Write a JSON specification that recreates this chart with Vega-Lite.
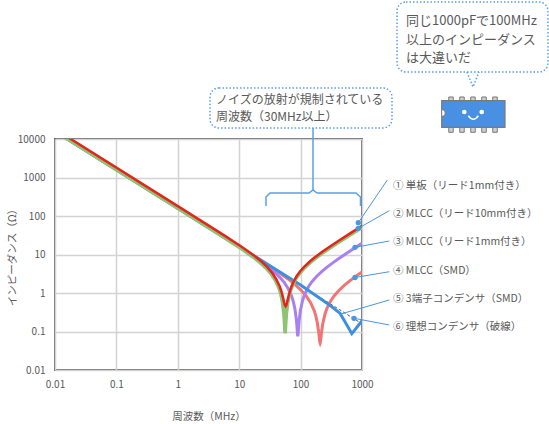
{
  "$schema": "https://vega.github.io/schema/vega-lite/v6.json",
  "autosize": {"type": "none"},
  "padding": {"left": 55, "top": 139, "right": 187, "bottom": 54},
  "width": 307,
  "height": 231,
  "background": "white",
  "datasets": {
    "curves": [
      {"s": "6", "f": 0.01, "z": 15915}, {"s": "6", "f": 1, "z": 159.15}, {"s": "6", "f": 1000, "z": 0.15915},

      {"s": "1", "f": 0.01, "z": 18085}, {"s": "1", "f": 1, "z": 180.8}, {"s": "1", "f": 5.7, "z": 31.41},
      {"s": "1", "f": 11.4, "z": 15.23}, {"s": "1", "f": 17.1, "z": 9.624}, {"s": "1", "f": 22.8, "z": 6.663},
      {"s": "1", "f": 28.5, "z": 4.76}, {"s": "1", "f": 34.2, "z": 3.385}, {"s": "1", "f": 39.9, "z": 2.312},
      {"s": "1", "f": 45.6, "z": 1.497}, {"s": "1", "f": 48.45, "z": 1.129}, {"s": "1", "f": 51.3, "z": 0.807},
      {"s": "1", "f": 54.15, "z": 0.555}, {"s": "1", "f": 55.29, "z": 0.49}, {"s": "1", "f": 57, "z": 0.45},
      {"s": "1", "f": 58.71, "z": 0.4876}, {"s": "1", "f": 59.85, "z": 0.546}, {"s": "1", "f": 62.7, "z": 0.7546},
      {"s": "1", "f": 68.4, "z": 1.247}, {"s": "1", "f": 74.1, "z": 1.743}, {"s": "1", "f": 85.5, "z": 2.682},
      {"s": "1", "f": 96.9, "z": 3.556}, {"s": "1", "f": 114, "z": 4.781}, {"s": "1", "f": 142.5, "z": 6.663},
      {"s": "1", "f": 171, "z": 8.461}, {"s": "1", "f": 228, "z": 11.9}, {"s": "1", "f": 285, "z": 15.23},
      {"s": "1", "f": 399, "z": 21.76}, {"s": "1", "f": 570, "z": 31.41}, {"s": "1", "f": 1000, "z": 55.49},

      {"s": "2", "f": 0.01, "z": 15915}, {"s": "2", "f": 1, "z": 159.1}, {"s": "2", "f": 5.6, "z": 28.14},
      {"s": "2", "f": 11.2, "z": 13.64}, {"s": "2", "f": 16.8, "z": 8.62}, {"s": "2", "f": 22.4, "z": 5.968},
      {"s": "2", "f": 28, "z": 4.263}, {"s": "2", "f": 33.6, "z": 3.032}, {"s": "2", "f": 39.2, "z": 2.071},
      {"s": "2", "f": 44.8, "z": 1.282}, {"s": "2", "f": 47.6, "z": 0.932}, {"s": "2", "f": 50.4, "z": 0.607},
      {"s": "2", "f": 53.2, "z": 0.305}, {"s": "2", "f": 54.32, "z": 0.195}, {"s": "2", "f": 55.44, "z": 0.1066},
      {"s": "2", "f": 56, "z": 0.09}, {"s": "2", "f": 56.56, "z": 0.1063}, {"s": "2", "f": 57.68, "z": 0.1906},
      {"s": "2", "f": 58.8, "z": 0.2917}, {"s": "2", "f": 61.6, "z": 0.55}, {"s": "2", "f": 67.2, "z": 1.046},
      {"s": "2", "f": 72.8, "z": 1.511}, {"s": "2", "f": 84, "z": 2.37}, {"s": "2", "f": 95.2, "z": 3.161},
      {"s": "2", "f": 112, "z": 4.264}, {"s": "2", "f": 140, "z": 5.969}, {"s": "2", "f": 168, "z": 7.58},
      {"s": "2", "f": 224, "z": 10.66}, {"s": "2", "f": 280, "z": 13.64}, {"s": "2", "f": 392, "z": 19.49},
      {"s": "2", "f": 560, "z": 28.14}, {"s": "2", "f": 1000, "z": 50.59},

      {"s": "3", "f": 0.01, "z": 15915}, {"s": "3", "f": 1, "z": 159.1}, {"s": "3", "f": 9, "z": 17.51},
      {"s": "3", "f": 18, "z": 8.488}, {"s": "3", "f": 27, "z": 5.364}, {"s": "3", "f": 36, "z": 3.713},
      {"s": "3", "f": 45, "z": 2.652}, {"s": "3", "f": 54, "z": 1.886}, {"s": "3", "f": 63, "z": 1.288},
      {"s": "3", "f": 72, "z": 0.799}, {"s": "3", "f": 76.5, "z": 0.582}, {"s": "3", "f": 81, "z": 0.381},
      {"s": "3", "f": 85.5, "z": 0.1964}, {"s": "3", "f": 87.3, "z": 0.1313}, {"s": "3", "f": 89.1, "z": 0.083},
      {"s": "3", "f": 90, "z": 0.075}, {"s": "3", "f": 90.9, "z": 0.0828}, {"s": "3", "f": 92.7, "z": 0.1287},
      {"s": "3", "f": 94.5, "z": 0.1882}, {"s": "3", "f": 99, "z": 0.3458}, {"s": "3", "f": 108, "z": 0.6527},
      {"s": "3", "f": 117, "z": 0.9416}, {"s": "3", "f": 135, "z": 1.476}, {"s": "3", "f": 153, "z": 1.967},
      {"s": "3", "f": 180, "z": 2.653}, {"s": "3", "f": 225, "z": 3.714}, {"s": "3", "f": 270, "z": 4.717},
      {"s": "3", "f": 360, "z": 6.631}, {"s": "3", "f": 450, "z": 8.488}, {"s": "3", "f": 630, "z": 12.13},
      {"s": "3", "f": 900, "z": 17.51}, {"s": "3", "f": 1000, "z": 19.49},

      {"s": "4", "f": 0.01, "z": 15915}, {"s": "4", "f": 1, "z": 159.1}, {"s": "4", "f": 20.8, "z": 7.575},
      {"s": "4", "f": 41.6, "z": 3.673}, {"s": "4", "f": 62.4, "z": 2.321}, {"s": "4", "f": 83.2, "z": 1.608},
      {"s": "4", "f": 104, "z": 1.149}, {"s": "4", "f": 124.8, "z": 0.8176}, {"s": "4", "f": 145.6, "z": 0.5596},
      {"s": "4", "f": 166.4, "z": 0.348}, {"s": "4", "f": 176.8, "z": 0.2548}, {"s": "4", "f": 187.2, "z": 0.1691},
      {"s": "4", "f": 197.6, "z": 0.0931}, {"s": "4", "f": 201.8, "z": 0.0684}, {"s": "4", "f": 205.9, "z": 0.0523},
      {"s": "4", "f": 208, "z": 0.05}, {"s": "4", "f": 210.1, "z": 0.0523}, {"s": "4", "f": 214.2, "z": 0.0674},
      {"s": "4", "f": 218.4, "z": 0.0899}, {"s": "4", "f": 228.8, "z": 0.1544}, {"s": "4", "f": 249.6, "z": 0.2849},
      {"s": "4", "f": 270.4, "z": 0.4092}, {"s": "4", "f": 312, "z": 0.6396}, {"s": "4", "f": 353.6, "z": 0.8521},
      {"s": "4", "f": 416, "z": 1.149}, {"s": "4", "f": 520, "z": 1.608}, {"s": "4", "f": 624, "z": 2.041},
      {"s": "4", "f": 832, "z": 2.869}, {"s": "4", "f": 1000, "z": 3.519},

      {"s": "5", "f": 0.01, "z": 15915}, {"s": "5", "f": 1, "z": 159.15}, {"s": "5", "f": 100, "z": 1.62},
      {"s": "5", "f": 300, "z": 0.48}, {"s": "5", "f": 441, "z": 0.295}, {"s": "5", "f": 684, "z": 0.088},
      {"s": "5", "f": 1000, "z": 0.19}
    ],
    "leads": [
      {"n": "1", "f": 2583, "z": 861, "f2": 871, "z2": 67},
      {"n": "2", "f": 2786, "z": 137.4, "f2": 871, "z2": 47.94},
      {"n": "3", "f": 2786, "z": 22.42, "f2": 769, "z2": 15.38},
      {"n": "4", "f": 2786, "z": 3.57, "f2": 769, "z2": 2.529},
      {"n": "5", "f": 2786, "z": 0.658, "f2": 455, "z2": 0.285},
      {"n": "6", "f": 2786, "z": 0.1476, "f2": 741, "z2": 0.2203}
    ],
    "dots": [
      {"f": 871, "z": 67}, {"f": 871, "z": 47.94}, {"f": 769, "z": 15.38},
      {"f": 769, "z": 2.529}, {"f": 741, "z": 0.2203}
    ],
    "labels": [
      {"t": "① 単板（リード1mm付き）", "f": 3199, "z": 612.4},
      {"t": "② MLCC（リード10mm付き）", "f": 3199, "z": 112.7},
      {"t": "③ MLCC（リード1mm付き）", "f": 3199, "z": 20.75},
      {"t": "④ MLCC（SMD）", "f": 3199, "z": 3.793},
      {"t": "⑤ 3端子コンデンサ（SMD）", "f": 3199, "z": 0.698},
      {"t": "⑥ 理想コンデンサ（破線）", "f": 3199, "z": 0.1333}
    ],
    "boxes": [
      {"f": 3715, "f2": 1069000, "z": 36100000, "z2": 550000},
      {"f": 3.343, "f2": 3080, "z": 211300, "z2": 19310}
    ],
    "tail": [
      {"i": 1, "f": 51290, "z": 550000},
      {"i": 2, "f": 64270, "z": 224400},
      {"i": 3, "f": 80540, "z": 550000}
    ],
    "bubbleText": [
      {"t": "同じ1000pFで100MHz", "f": 5212, "z": 11600000},
      {"t": "以上のインピーダンス", "f": 5212, "z": 3840000},
      {"t": "は大違いだ", "f": 5212, "z": 1270000}
    ],
    "calloutText": [
      {"t": "ノイズの放射が規制されている", "f": 4.19, "z": 103000},
      {"t": "周波数（30MHz以上）", "f": 4.19, "z": 37240}
    ],
    "brace": [
      {"g": "v", "i": 1, "f": 159.2, "z": 19310},
      {"g": "v", "i": 2, "f": 159.2, "z": 473},
      {"g": "b", "i": 1, "f": 27.31, "z": 181.9},
      {"g": "b", "i": 2, "f": 27.31, "z": 311.8},
      {"g": "b", "i": 3, "f": 31.74, "z": 395.6},
      {"g": "b", "i": 4, "f": 137.0, "z": 395.6},
      {"g": "b", "i": 5, "f": 159.2, "z": 473},
      {"g": "b", "i": 6, "f": 184.9, "z": 395.6},
      {"g": "b", "i": 7, "f": 798.6, "z": 395.6},
      {"g": "b", "i": 8, "f": 945, "z": 311.8},
      {"g": "b", "i": 9, "f": 945, "z": 181.9}
    ],
    "pins": [
      {"f": 25880, "f2": 30620, "z": 123300, "z2": 14930},
      {"f": 39080, "f2": 46240, "z": 123300, "z2": 14930},
      {"f": 59020, "f2": 69830, "z": 123300, "z2": 14930},
      {"f": 89130, "f2": 105700, "z": 123300, "z2": 14930},
      {"f": 134600, "f2": 159600, "z": 123300, "z2": 14930}
    ],
    "body": [{"f": 19860, "f2": 213300, "z": 98860, "z2": 20140}],
    "notch": [{"f": 19860, "z": 47320}],
    "eyes": [{"f": 46350, "z": 50230}, {"f": 89130, "z": 50230}],
    "smile": [{"f": 65010, "z": 36640}]
  },
  "data": {"name": "curves"},
  "encoding": {
    "x": {
      "field": "f", "type": "quantitative",
      "scale": {"type": "log", "domain": [0.01, 1000]},
      "axis": {"values": [0.01, 0.1, 1, 10, 100, 1000], "format": "~g", "title": "周波数（MHz）", "labelPadding": 9, "titlePadding": 22, "labelFlush": false}
    },
    "y": {
      "field": "z", "type": "quantitative",
      "scale": {"type": "log", "domain": [0.01, 10000]},
      "axis": {"values": [0.01, 0.1, 1, 10, 100, 1000, 10000], "format": "~g", "title": "インピーダンス（Ω）", "labelPadding": 10, "titlePadding": 0, "labelFlush": false}
    }
  },
  "layer": [
    {"transform": [{"filter": "datum.s == '6'"}], "mark": {"type": "line", "clip": true, "color": "#555555", "strokeWidth": 1, "strokeDash": [3, 2]}},
    {"transform": [{"filter": "datum.s == '4'"}], "mark": {"type": "line", "clip": true, "color": "#f27474", "strokeWidth": 3}},
    {"transform": [{"filter": "datum.s == '3'"}], "mark": {"type": "line", "clip": true, "color": "#a880f0", "strokeWidth": 3}},
    {"transform": [{"filter": "datum.s == '5'"}], "mark": {"type": "line", "clip": true, "color": "#3d8fdf", "strokeWidth": 3}},
    {"transform": [{"filter": "datum.s == '2'"}], "mark": {"type": "line", "clip": true, "color": "#8dc574", "strokeWidth": 3.5}},
    {"transform": [{"filter": "datum.s == '1'"}], "mark": {"type": "line", "clip": true, "color": "#e5251d", "strokeWidth": 2.5}},
    {
      "data": {"name": "brace"},
      "mark": {"type": "line", "color": "#5aa0e6", "strokeWidth": 1.5},
      "encoding": {"detail": {"field": "g"}, "order": {"field": "i"}}
    },
    {
      "data": {"name": "boxes"},
      "mark": {"type": "rect", "fill": "white", "stroke": "#5aa0e6", "strokeWidth": 1.5, "strokeDash": [1.5, 2], "cornerRadius": 9},
      "encoding": {"x2": {"field": "f2"}, "y2": {"field": "z2"}}
    },
    {
      "data": {"name": "tail"},
      "mark": {"type": "line", "color": "#5aa0e6", "strokeWidth": 1.5, "strokeDash": [1.5, 2]},
      "encoding": {"order": {"field": "i"}}
    },
    {
      "data": {"name": "bubbleText"},
      "mark": {"type": "text", "align": "left", "baseline": "middle", "fontSize": 13, "color": "#595959"},
      "encoding": {"text": {"field": "t"}}
    },
    {
      "data": {"name": "calloutText"},
      "mark": {"type": "text", "align": "left", "baseline": "middle", "fontSize": 12, "color": "#595959"},
      "encoding": {"text": {"field": "t"}}
    },
    {
      "data": {"name": "pins"},
      "mark": {"type": "rect", "fill": "#cfcfcf", "stroke": "#7a7a7a", "strokeWidth": 1},
      "encoding": {"x2": {"field": "f2"}, "y2": {"field": "z2"}}
    },
    {
      "data": {"name": "body"},
      "mark": {"type": "rect", "fill": "#4a90e2", "stroke": "#7a7a7a", "strokeWidth": 1.2},
      "encoding": {"x2": {"field": "f2"}, "y2": {"field": "z2"}}
    },
    {
      "data": {"name": "notch"},
      "mark": {"type": "point", "shape": "M0,-1 A1,1 0 0 1 0,1 Z", "size": 49, "filled": true, "fill": "white", "stroke": "#7a7a7a", "strokeWidth": 1, "opacity": 1}
    },
    {
      "data": {"name": "eyes"},
      "mark": {"type": "circle", "size": 22, "color": "white", "opacity": 1}
    },
    {
      "data": {"name": "smile"},
      "mark": {"type": "point", "shape": "M-1,-0.3 Q0,1.1 1,-0.3", "size": 100, "filled": false, "stroke": "white", "strokeWidth": 1.5, "opacity": 1}
    },
    {
      "data": {"name": "leads"},
      "mark": {"type": "rule", "color": "#4a96e0", "strokeWidth": 1},
      "encoding": {"x2": {"field": "f2"}, "y2": {"field": "z2"}}
    },
    {
      "data": {"name": "dots"},
      "mark": {"type": "circle", "size": 28, "color": "#4a96e0", "opacity": 1}
    },
    {
      "data": {"name": "labels"},
      "mark": {"type": "text", "align": "left", "baseline": "middle", "fontSize": 10.5, "color": "#595959"},
      "encoding": {"text": {"field": "t"}}
    }
  ],
  "config": {
    "font": "Noto Sans CJK JP",
    "view": {"stroke": "#6b6b6b", "strokeWidth": 2},
    "axis": {
      "grid": true, "gridColor": "#d3d3d3", "gridWidth": 1.5,
      "domain": false, "ticks": false,
      "labelColor": "#595959", "titleColor": "#595959",
      "labelFontSize": 10, "titleFontSize": 10.5, "titleFontWeight": "normal",
      "labelFont": "Noto Sans CJK JP", "titleFont": "Noto Sans CJK JP"
    }
  }
}
